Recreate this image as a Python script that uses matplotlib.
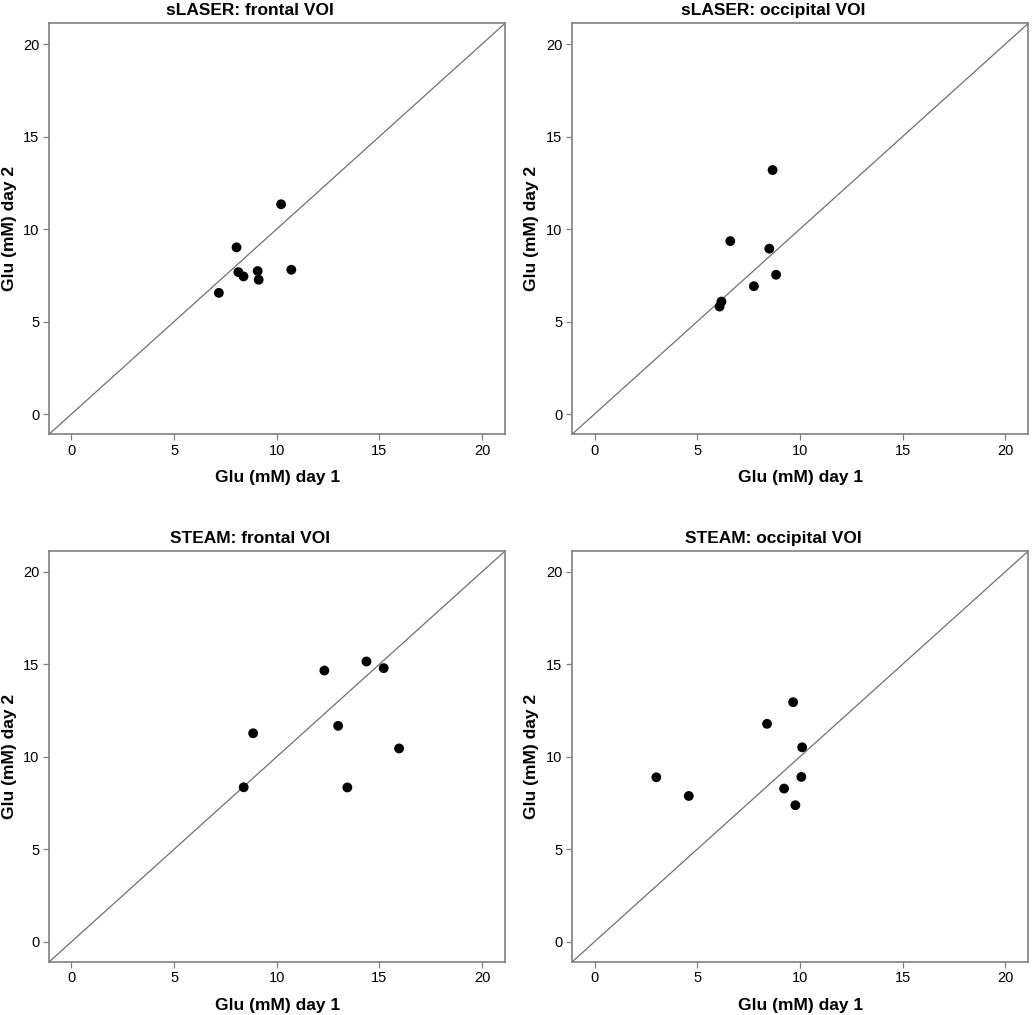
import numpy as np
import matplotlib
matplotlib.use("Agg")
import matplotlib.pyplot as plt

plt.rcParams['font.family'] = ['Liberation Sans', 'DejaVu Sans']

# Glu (mM) day 1 / day 2 for each sequence and VOI
slaser_frontal_d1 = [7.18, 8.04, 8.13, 8.38, 9.07, 9.12, 10.21, 10.71]
slaser_frontal_d2 = [6.55, 9.01, 7.67, 7.44, 7.73, 7.26, 11.34, 7.80]

slaser_occ_d1 = [6.09, 6.18, 6.61, 7.76, 8.51, 8.67, 8.84]
slaser_occ_d2 = [5.81, 6.08, 9.35, 6.91, 8.94, 13.19, 7.53]

steam_frontal_d1 = [8.39, 8.85, 12.32, 12.99, 13.44, 14.37, 15.21, 15.96]
steam_frontal_d2 = [8.35, 11.27, 14.66, 11.67, 8.34, 15.15, 14.79, 10.45]

steam_occ_d1 = [3.01, 4.59, 8.40, 9.23, 9.67, 9.78, 10.07, 10.11]
steam_occ_d2 = [8.89, 7.88, 11.78, 8.28, 12.95, 7.38, 8.91, 10.51]

titles = ["sLASER: frontal VOI", "sLASER: occipital VOI",
          "STEAM: frontal VOI", "STEAM: occipital VOI"]
panels = [(slaser_frontal_d1, slaser_frontal_d2),
          (slaser_occ_d1, slaser_occ_d2),
          (steam_frontal_d1, steam_frontal_d2),
          (steam_occ_d1, steam_occ_d2)]

lims = (-1.08, 21.12)
ticks = [0, 5, 10, 15, 20]

fig = plt.figure(figsize=(10.34, 10.15), dpi=100)
positions = [[0.0477, 0.5724, 0.4407, 0.4046],
             [0.5535, 0.5724, 0.4410, 0.4046],
             [0.0477, 0.0525, 0.4407, 0.4046],
             [0.5535, 0.0525, 0.4410, 0.4046]]
ylab_x = [-0.070, -0.074, -0.070, -0.074]

for pos, title, (d1, d2), yx in zip(positions, titles, panels, ylab_x):
    ax = fig.add_axes(pos)
    ax.plot(lims, lims, color="#707070", lw=0.9, zorder=1)
    ax.scatter(d1, d2, s=50, c="black", edgecolors="none", zorder=3)
    ax.set_xlim(lims)
    ax.set_ylim(lims)
    ax.set_xticks(ticks)
    ax.set_yticks(ticks)
    for sp in ax.spines.values():
        sp.set_color("#808080")
        sp.set_linewidth(1.2)
    ax.tick_params(direction="out", length=4, width=0.9, color="#808080",
                   labelsize=10.5, labelcolor="black", pad=3)
    ax.set_xlabel("Glu (mM) day 1", fontsize=12.5, fontweight="bold", labelpad=9)
    ax.set_ylabel("Glu (mM) day 2", fontsize=12.5, fontweight="bold")
    ax.yaxis.set_label_coords(yx, 0.5)
    ax.text(0.44, 1.012, title, transform=ax.transAxes, ha="center", va="bottom",
            fontsize=12.5, fontweight="bold")

fig.savefig("out.png", dpi=100, facecolor="white")
